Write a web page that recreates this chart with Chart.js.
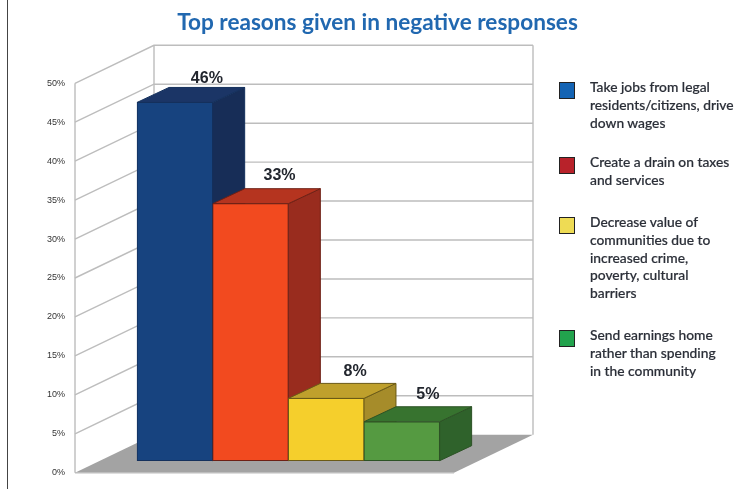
<!DOCTYPE html>
<html lang="en">
<head>
<meta charset="UTF-8" />
<title>Top reasons given in negative responses</title>
<style>
  body { margin: 0; background: #fff; width: 752px; height: 489px; overflow: hidden; position: relative; }
  #frame { position: absolute; left: 7px; top: 0; bottom: 0; width: 1px; background: #444; }
  #chart { position: absolute; left: 0; top: 0; }
  h1 { position: absolute; left: 0; top: 8px; width: 755px; margin: 0; text-align: center; font: bold 22.6px/28px Lato, sans-serif; color: #2168b0; }
  .legend-item { position: absolute; left: 559px; font: 500 13.8px/17.8px Lato, sans-serif; color: #2b2f38; -webkit-text-stroke: 0.2px #2b2f38; }
  .legend-item:nth-child(1) { top: 82px; }
  .legend-item:nth-child(2) { top: 157px; }
  .legend-item:nth-child(3) { top: 217px; }
  .legend-item:nth-child(4) { top: 330px; }
  .swatch { position: absolute; left: 0; top: 0; width: 14px; height: 15px; border: 1px solid #222; box-sizing: content-box; }
  .legend-text { position: absolute; left: 31px; top: -4px; white-space: nowrap; }
</style>
</head>
<body>
<div id="frame"></div>
<canvas id="chart" width="752" height="489"></canvas>
<h1 id="title"></h1>
<div id="legend"></div>

<script src="https://cdn.jsdelivr.net/npm/chart.js"></script>
<script>
  const titleText = 'Top reasons given in negative responses';
  const categories = [
    ['Take jobs from legal', 'residents/citizens, drive', 'down wages'],
    ['Create a drain on taxes', 'and services'],
    ['Decrease value of', 'communities due to', 'increased crime,', 'poverty, cultural', 'barriers'],
    ['Send earnings home', 'rather than spending', 'in the community']
  ];
  const values = [46, 33, 8, 5];
  const frontColors = ['#17437f', '#f24a1f', '#f5cf2c', '#559a41'];
  const topColors = ['#1b3566', '#b5341f', '#bfa02c', '#37732f'];
  const sideColors = ['#172d57', '#992c1e', '#a68c2a', '#2f622b'];
  const edgeColors = ['#14305c', '#6e2015', '#6b5a16', '#2c5225'];
  const legendColors = ['#1464b4', '#b8222a', '#eedb54', '#22a34d'];
  const labelGaps = [9, 13, 12, 12];
  const labelShifts = [32, 29, 29, 26];

  // oblique projection used for the fake 3D
  const wallDX = 79, wallDY = 38;
  const barDX = 32, barDY = 15, barLift = 12;

  function poly(ctx, pts, fill, stroke) {
    ctx.beginPath();
    pts.forEach((p, i) => i ? ctx.lineTo(p[0], p[1]) : ctx.moveTo(p[0], p[1]));
    ctx.closePath();
    ctx.fillStyle = fill;
    ctx.fill();
    if (stroke) {
      ctx.lineWidth = 1;
      ctx.strokeStyle = stroke;
      ctx.stroke();
    }
  }

  const box3d = {
    id: 'box3d',
    beforeDatasetsDraw(chart) {
      const ctx = chart.ctx;
      const { left, right, bottom } = chart.chartArea;
      const y = chart.scales.y;

      // floor
      poly(ctx, [[left, bottom], [left + wallDX, bottom - wallDY], [right + wallDX, bottom - wallDY], [right, bottom]], '#a3a3a3');

      // left wall and back wall grid
      ctx.strokeStyle = '#bdbdbd';
      ctx.lineWidth = 1.4;
      y.ticks.forEach(t => {
        const py = y.getPixelForValue(t.value);
        ctx.beginPath();
        if (t.value === 0) {
          ctx.moveTo(right, py);
          ctx.lineTo(left, py);
        } else {
          ctx.moveTo(left, py);
          ctx.lineTo(left + wallDX, py - wallDY);
          ctx.lineTo(right + wallDX, py - wallDY);
        }
        ctx.stroke();
      });
      const top = y.getPixelForValue(50);
      ctx.beginPath();
      ctx.moveTo(left, bottom);
      ctx.lineTo(left, top);
      ctx.moveTo(left + wallDX, bottom - wallDY);
      ctx.lineTo(left + wallDX, top - wallDY);
      ctx.moveTo(right + wallDX, bottom - wallDY);
      ctx.lineTo(right + wallDX, top - wallDY);
      ctx.stroke();

      // side and top faces, left to right, fronts get drawn by Chart.js after this
      ctx.save();
      ctx.translate(0, -barLift);
      chart.getDatasetMeta(0).data.forEach((bar, i) => {
        const { x, y: by, base, width } = bar.getProps(['x', 'y', 'base', 'width'], true);
        const l = x - width / 2, r = x + width / 2;
        poly(ctx, [[r, by], [r + barDX, by - barDY], [r + barDX, base - barDY], [r, base]], sideColors[i], edgeColors[i]);
        poly(ctx, [[l, by], [l + barDX, by - barDY], [r + barDX, by - barDY], [r, by]], topColors[i], edgeColors[i]);
      });
    },
    afterDatasetsDraw(chart) {
      const ctx = chart.ctx;
      chart.getDatasetMeta(0).data.forEach((bar, i) => {
        const { x, y: by } = bar.getProps(['x', 'y'], true);
        ctx.font = 'bold 16px "Liberation Sans", sans-serif';
        ctx.fillStyle = '#22262e';
        ctx.textAlign = 'center';
        ctx.textBaseline = 'middle';
        ctx.fillText(values[i] + '%', x + labelShifts[i], by - barDY - labelGaps[i]);
      });
      ctx.restore();
    }
  };

  document.getElementById('title').textContent = titleText;

  new Chart(document.getElementById('chart'), {
    type: 'bar',
    data: {
      datasets: [{
        data: values.map((v, i) => ({ x: i, y: v })),
        backgroundColor: frontColors,
        borderColor: edgeColors,
        borderWidth: 1,
        borderSkipped: false,
        barPercentage: 1,
        categoryPercentage: 1,
        clip: false
      }]
    },
    options: {
      responsive: false,
      animation: false,
      layout: { padding: { left: 0, right: 298, top: 83.3, bottom: 16.3 } },
      plugins: {
        legend: { display: false },
        tooltip: { enabled: false }
      },
      scales: {
        x: {
          type: 'linear',
          display: false,
          offset: false,
          min: -1.32,
          max: 3.69,
          grid: { display: false },
          // one tick per bar, otherwise the bar width follows the tick spacing
          afterBuildTicks(scale) { scale.ticks = values.map((v, i) => ({ value: i })); }
        },
        y: {
          min: 0,
          max: 50,
          afterFit(scale) { scale.width = 75; },
          border: { display: false },
          grid: { display: false, drawTicks: false },
          ticks: {
            stepSize: 5,
            padding: 10,
            color: '#333',
            font: { family: '"Liberation Sans", sans-serif', size: 9 },
            callback: v => v + '%'
          }
        }
      }
    },
    plugins: [box3d]
  });

  // legend wraps by hand, same line breaks as the original
  const legend = document.getElementById('legend');
  categories.forEach((lines, i) => {
    const item = document.createElement('div');
    item.className = 'legend-item';
    const swatch = document.createElement('div');
    swatch.className = 'swatch';
    swatch.style.background = legendColors[i];
    const text = document.createElement('div');
    text.className = 'legend-text';
    text.innerHTML = lines.join('<br>');
    item.append(swatch, text);
    legend.append(item);
  });
</script>
</body>
</html>
